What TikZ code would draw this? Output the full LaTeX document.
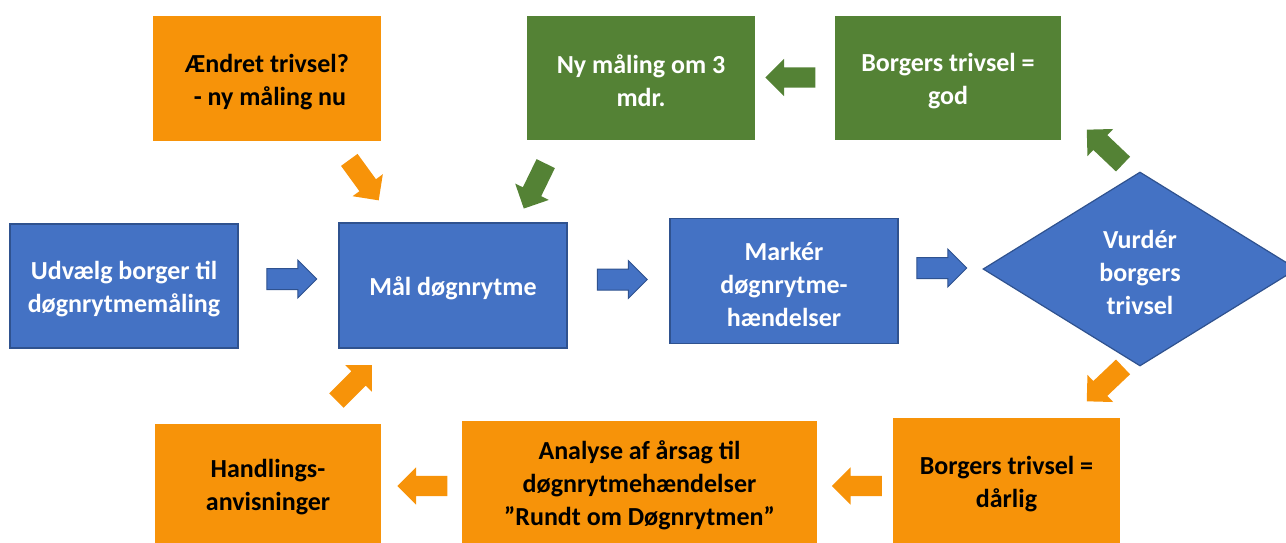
\documentclass[tikz,border=0pt]{standalone}
\usepackage{fontspec}
\setmainfont{Carlito}
\usetikzlibrary{shapes.geometric,shapes.arrows}
\definecolor{cblue}{RGB}{68,114,196}
\definecolor{cblueline}{RGB}{47,82,143}
\definecolor{cgreen}{RGB}{84,130,53}
\definecolor{corange}{RGB}{247,147,9}
\newcommand{\tstrut}{\rule{0pt}{25pt}}
\tikzset{
  boxfont/.style={font=\fontsize{26}{33}\selectfont\bfseries},
  box/.style={rectangle, inner sep=0pt, align=center, boxfont},
  bluebox/.style={box, fill=cblue, draw=cblueline, line width=1.2pt, text=white},
  greenbox/.style={box, fill=cgreen, text=white},
  orangebox/.style={box, fill=corange, text=black},
  barrow/.style={single arrow, inner sep=0pt, inner ysep=10pt, minimum height=50pt, minimum width=37pt, single arrow head extend=8.5pt},
  bluearrow/.style={barrow, fill=cblue, draw=cblueline, line width=1pt},
  greenarrow/.style={barrow, fill=cgreen},
  orangearrow/.style={barrow, fill=corange},
}
\begin{document}
\begin{tikzpicture}[x=1pt,y=-1pt]
\useasboundingbox (0,0) rectangle (1286,543);
% boxes
\node[bluebox, minimum width=228pt, minimum height=124pt] (udv) at (124,286) {\tstrut Udvælg borger til\\døgnrytmemåling};
\node[bluebox, minimum width=228pt, minimum height=125pt] (maal) at (453,285.5) {\tstrut Mål døgnrytme};
\node[bluebox, minimum width=228pt, minimum height=125pt] (mark) at (784,281) {\tstrut Markér\\døgnrytme-\\hændelser};
\node[diamond, fill=cblue, draw=cblueline, line width=1.2pt, minimum width=314pt, minimum height=194pt, inner sep=0pt, align=center, text=white, boxfont] (vurd) at (1140,269) {\tstrut Vurdér\\borgers\\trivsel};
\node[orangebox, minimum width=228pt, minimum height=125pt] (aend) at (267,78.5) {\tstrut Ændret trivsel?\\~- ny måling nu};
\node[greenbox, minimum width=228pt, minimum height=124pt] (ny) at (641,78) {\tstrut Ny måling om 3\\mdr.};
\node[greenbox, minimum width=226pt, minimum height=124pt] (god) at (948,78) {\tstrut Borgers trivsel =\\god};
\node[orangebox, minimum width=226pt, minimum height=120pt] (hand) at (268,484) {\tstrut Handlings-\\anvisninger};
\node[orangebox, minimum width=355pt, minimum height=123pt] (anal) at (639.5,482.5) {\tstrut Analyse af årsag til\\døgnrytmehændelser\\”Rundt om Døgnrytmen”};
\node[orangebox, minimum width=227pt, minimum height=126pt] (darl) at (1006.5,481) {\tstrut Borgers trivsel =\\dårlig};
% block arrows
\node[bluearrow] (a1) at (286.5,279) {};
\node[bluearrow] (a2) at (617,279.5) {};
\node[bluearrow] (a3) at (936.5,268) {};
\node[orangearrow, rotate=-54] (a4) at (361,176) {};
\node[greenarrow, rotate=-116] (a5) at (537,181.5) {};
\node[greenarrow, rotate=180] (a6) at (795.5,77.5) {};
\node[greenarrow, rotate=136.5] (a7) at (1108.6,150.4) {};
\node[orangearrow, rotate=-136.5] (a8) at (1108.6,380.6) {};
\node[orangearrow, rotate=180] (a9) at (862,486) {};
\node[orangearrow, rotate=180] (a10) at (427.5,486) {};
\node[orangearrow, rotate=45] (a11) at (350.5,386.5) {};
\end{tikzpicture}
\end{document}
